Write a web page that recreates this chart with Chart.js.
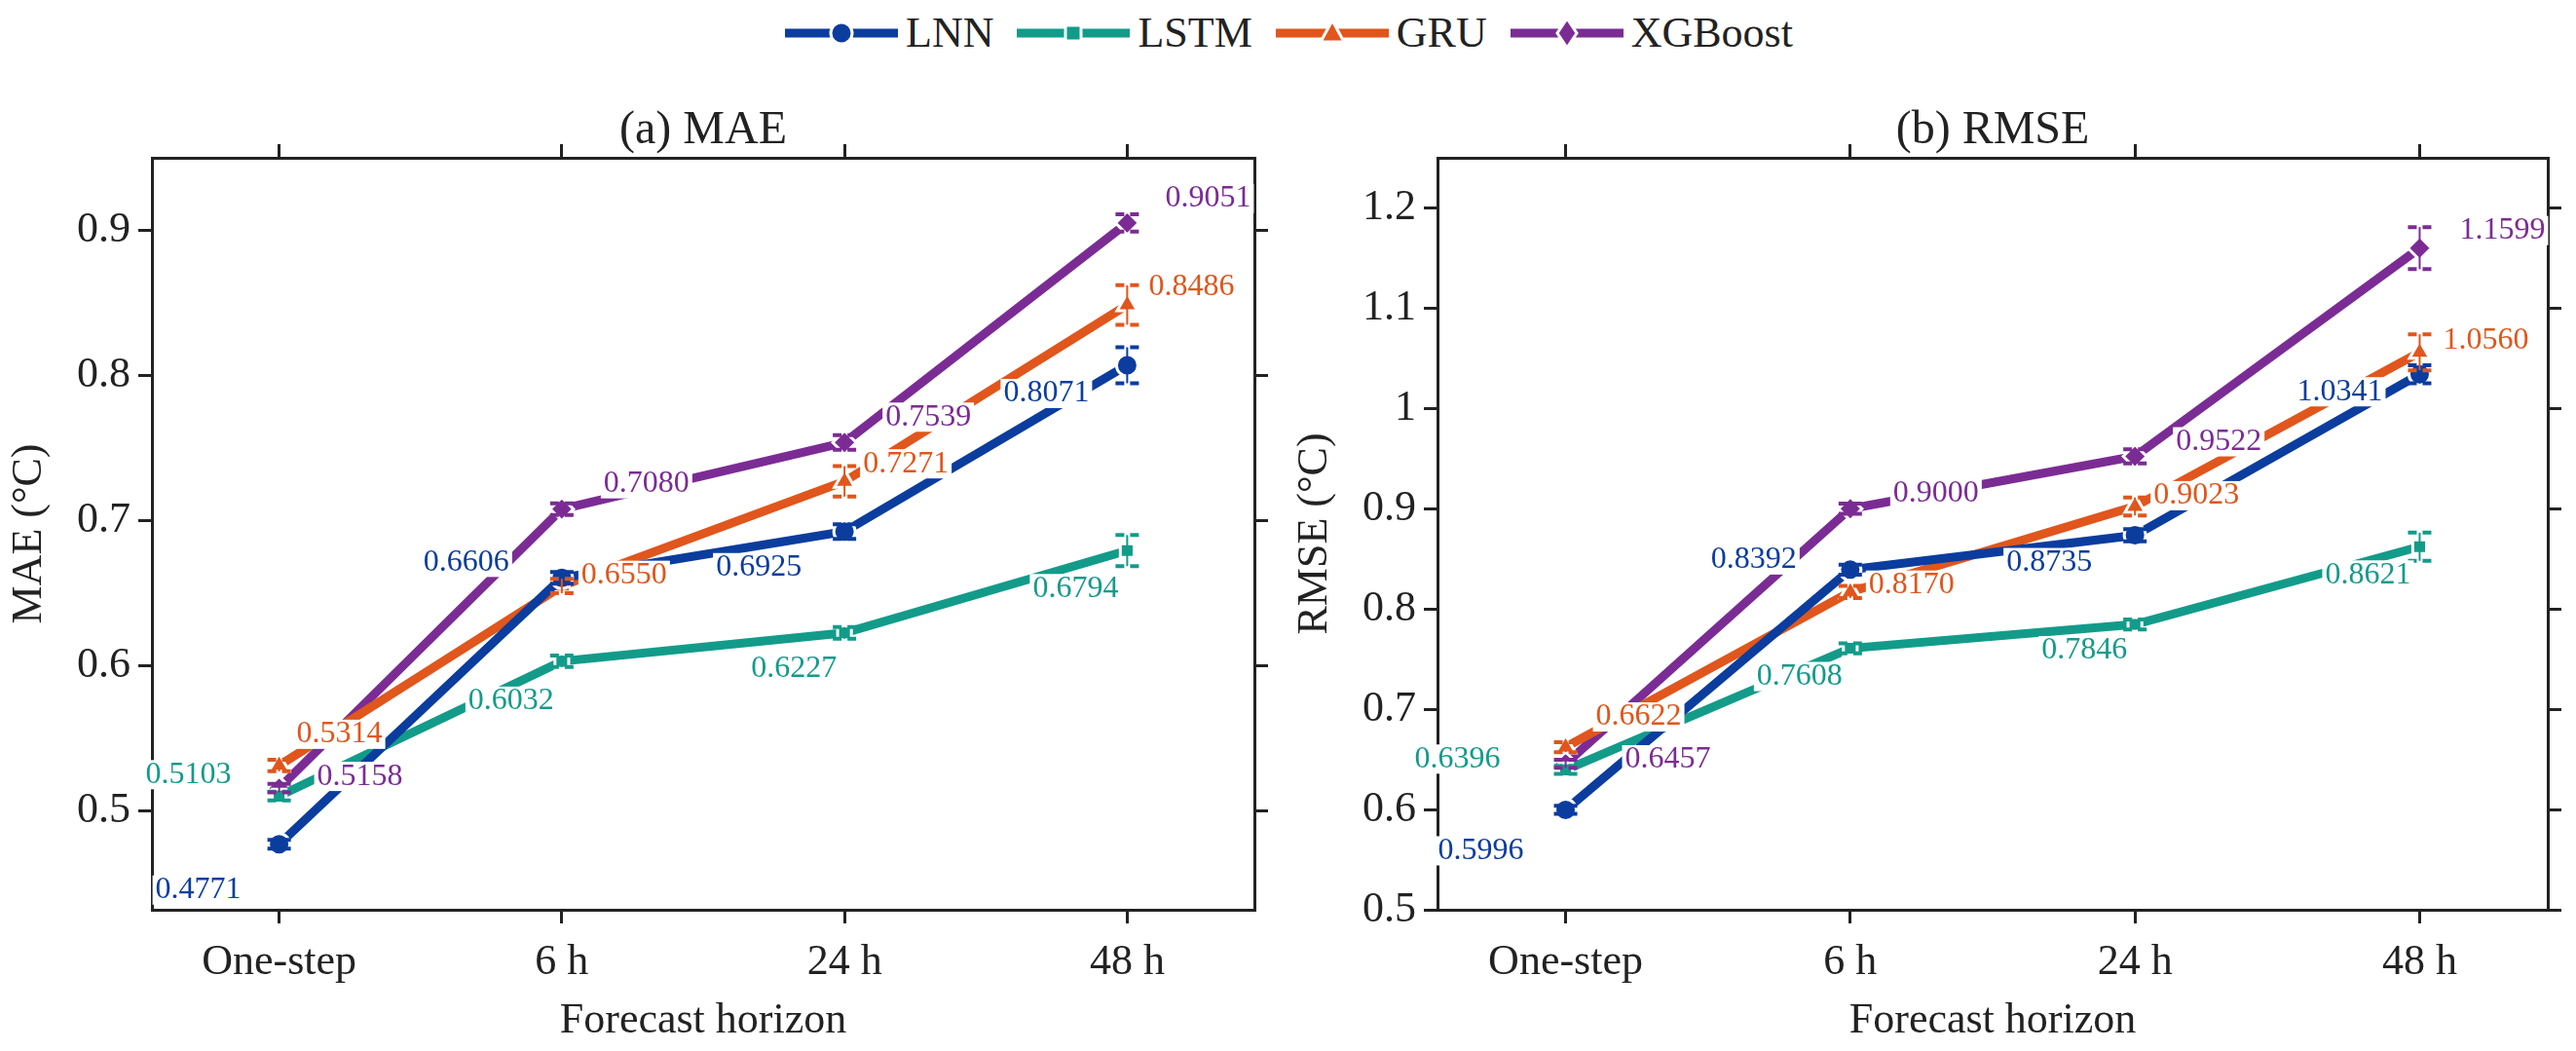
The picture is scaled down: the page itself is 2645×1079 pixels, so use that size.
<!DOCTYPE html>
<html>
<head>
<meta charset="utf-8">
<script src="https://cdn.jsdelivr.net/npm/chart.js@4.4.1/dist/chart.umd.min.js"></script>
<style>
  body { margin: 0; background: #fff; width: 2645px; height: 1079px; overflow: hidden; position: relative; font-family: "Liberation Serif", "DejaVu Serif", serif; }
  #legend { position: absolute; top: 8px; left: 0; width: 2645px; display: flex; justify-content: center; gap: 22px; font-size: 44px; color: #222; }
  .item { display: flex; align-items: center; gap: 6px; }
  canvas { position: absolute; top: 0; }
</style>
</head>
<body>
<div id="legend"></div>
<div style="position:absolute;left:0;top:0;width:1310px;height:1079px"><canvas id="mae"></canvas></div>
<div style="position:absolute;left:1320px;top:0;width:1325px;height:1079px"><canvas id="rmse"></canvas></div>
<script>
// Categories and series
const horizons = ['One-step', '6 h', '24 h', '48 h'];
const models = ['LNN', 'LSTM', 'GRU', 'XGBoost'];
const colors = ['#0b3d9e', '#139b8a', '#e0561c', '#7b2c94'];
const markers = ['circle', 'rect', 'triangle', 'rectRot'];
const markerSize = [11, 10, 12, 12];

const maeLNN = [0.4771, 0.6606, 0.6925, 0.8071];
const maeLSTM = [0.5103, 0.6032, 0.6227, 0.6794];
const maeGRU = [0.5314, 0.6550, 0.7271, 0.8486];
const maeXGB = [0.5158, 0.7080, 0.7539, 0.9051];

const rmseLNN = [0.5996, 0.8392, 0.8735, 1.0341];
const rmseLSTM = [0.6396, 0.7608, 0.7846, 0.8621];
const rmseGRU = [0.6622, 0.8170, 0.9023, 1.0560];
const rmseXGB = [0.6457, 0.9000, 0.9522, 1.1599];

// Error bar half-widths (estimated)
const maeErr = [[0.003, 0.004, 0.005, 0.0124], [0.003, 0.004, 0.004, 0.0107], [0.004, 0.005, 0.0105, 0.0136], [0.003, 0.004, 0.005, 0.006]];
const rmseErr = [[0.004, 0.005, 0.006, 0.009], [0.004, 0.005, 0.005, 0.014], [0.005, 0.006, 0.009, 0.018], [0.004, 0.005, 0.007, 0.021]];

const maeTicks = [0.5, 0.6, 0.7, 0.8, 0.9];
const rmseTicks = [0.5, 0.6, 0.7, 0.8, 0.9, 1.0, 1.1, 1.2];

// Label offsets in px (dx, dy) per model per horizon
const maeLabelOff = [
  [[-83, 47], [-98, -16], [-88, 37], [-83, 29]],
  [[-93, -22], [-52, 41], [-52, 37], [-53, 39]],
  [[62, -32], [64, -11], [63, -18], [66, -19]],
  [[83, -12], [87, -26], [86, -26], [83, -25]]
];
const rmseLabelOff = [
  [[-87, 42], [-99, -10], [-88, 28], [-82, 18]],
  [[-111, -11], [-52, 29], [-52, 27], [-53, 29]],
  [[75, -31], [63, -7], [63, -11], [68, -12]],
  [[105, -4], [88, -16], [86, -15], [85, -18]]
];

const FONT = '"Liberation Serif", "Times New Roman", serif';
const INK = '#222';

// Legend
const legend = document.getElementById('legend');
models.forEach((m, i) => {
  const shape = {
    circle: '<circle cx="60" cy="25" r="11" fill="C" stroke="#fff" stroke-width="3"/>',
    rect: '<rect x="52" y="17" width="16" height="16" fill="C" stroke="#fff" stroke-width="3"/>',
    triangle: '<polygon points="60,12 72,34 48,34" fill="C" stroke="#fff" stroke-width="3"/>',
    rectRot: '<polygon points="60,10 70,25 60,40 50,25" fill="C" stroke="#fff" stroke-width="3"/>'
  }[markers[i]].replace('C', colors[i]);
  const div = document.createElement('div');
  div.className = 'item';
  div.innerHTML = `<svg width="120" height="50"><line x1="2" y1="25" x2="118" y2="25" stroke="${colors[i]}" stroke-width="9"/>${shape}</svg><span>${m}</span>`;
  legend.appendChild(div);
});

const overlay = {
  id: 'overlay',
  afterDatasetsDraw(chart, args, opts) {
    const c = chart.ctx, xs = chart.scales.x, ys = chart.scales.y;
    // error bars
    opts.err.forEach((errs, si) => {
      const vals = chart.data.datasets[si].data;
      c.save();
      c.strokeStyle = colors[si];
      vals.forEach((p, k) => {
        const x = xs.getPixelForValue(p.x);
        const hi = ys.getPixelForValue(p.y + errs[k]);
        const lo = ys.getPixelForValue(p.y - errs[k]);
        c.lineWidth = 2;
        c.setLineDash([]);
        c.beginPath(); c.moveTo(x, hi); c.lineTo(x, lo); c.stroke();
        c.lineWidth = 4;
        c.setLineDash([9, 6]);
        [hi, lo].forEach(y => { c.beginPath(); c.moveTo(x - 12, y); c.lineTo(x + 12, y); c.stroke(); });
      });
      c.restore();
    });
    // value labels with white boxes
    c.save();
    c.font = '32px ' + FONT;
    c.textAlign = 'center';
    c.textBaseline = 'middle';
    opts.off.forEach((offs, si) => {
      chart.data.datasets[si].data.forEach((p, k) => {
        const x = xs.getPixelForValue(p.x) + offs[k][0];
        const y = ys.getPixelForValue(p.y) + offs[k][1];
        const txt = p.y.toFixed(4);
        const w = c.measureText(txt).width;
        c.fillStyle = '#fff';
        c.fillRect(x - w / 2 - 3, y - 15, w + 6, 30);
        c.fillStyle = colors[si];
        c.fillText(txt, x, y);
      });
    });
    // panel title
    c.font = '48px ' + FONT;
    c.fillStyle = INK;
    const a = chart.chartArea;
    const tw = c.measureText(opts.title).width;
    c.fillStyle = '#fff';
    c.fillRect((a.left + a.right) / 2 - tw / 2 - 4, 108, tw + 8, 52);
    c.fillStyle = INK;
    c.fillText(opts.title, (a.left + a.right) / 2, 134);
    c.restore();
  }
};

function makePanel(id, series, err, off, ticks, yMin, yMax, yTitle, title, rightW) {
  const tickFix = vals => axis => { axis.ticks = vals.map(v => ({ value: v })); };
  const grid = { drawOnChartArea: false, color: INK, lineWidth: 3, tickLength: 14, tickColor: INK };
  const border = { display: true, color: INK, width: 3 };
  new Chart(document.getElementById(id), {
    type: 'line',
    data: {
      datasets: series.map((vals, i) => ({
        label: models[i],
        data: vals.map((v, k) => ({ x: k, y: v })),
        borderColor: colors[i],
        backgroundColor: colors[i],
        borderWidth: 9,
        pointStyle: markers[i],
        pointRadius: markerSize[i],
        pointBorderColor: '#fff',
        pointBorderWidth: 3,
        tension: 0
      }))
    },
    options: {
      responsive: true,
      maintainAspectRatio: false,
      animation: false,
      layout: { padding: 0 },
      plugins: {
        legend: { display: false },
        tooltip: { enabled: false },
        overlay: { err: err, off: off, title: title }
      },
      scales: {
        x: {
          type: 'linear', position: 'bottom', min: -0.45, max: 3.45,
          afterBuildTicks: tickFix([0, 1, 2, 3]),
          afterFit: s => { s.height = 145; },
          grid: grid, border: border,
          ticks: { color: INK, font: { family: FONT, size: 44 }, padding: 14, callback: v => horizons[v] },
          title: { display: true, text: 'Forecast horizon', color: INK, font: { family: FONT, size: 44 }, padding: { top: 0, bottom: 4 } }
        },
        x2: {
          type: 'linear', position: 'top', min: -0.45, max: 3.45,
          afterBuildTicks: tickFix([0, 1, 2, 3]),
          afterFit: s => { s.height = 162; },
          grid: grid, border: border, ticks: { display: false }
        },
        y: {
          type: 'linear', position: 'left', min: yMin, max: yMax,
          afterBuildTicks: tickFix(ticks),
          afterFit: s => { s.width = 156; },
          grid: grid, border: border,
          ticks: { color: INK, font: { family: FONT, size: 44 }, padding: 8, callback: v => String(+v.toFixed(1)) },
          title: { display: true, text: yTitle, color: INK, font: { family: FONT, size: 44 }, padding: { top: 4, bottom: 4 } }
        },
        y2: {
          type: 'linear', position: 'right', min: yMin, max: yMax,
          afterBuildTicks: tickFix(ticks),
          afterFit: s => { s.width = rightW; },
          grid: grid, border: border, ticks: { display: false }
        }
      }
    },
    plugins: [overlay]
  });
}

makePanel('mae', [maeLNN, maeLSTM, maeGRU, maeXGB], maeErr, maeLabelOff, maeTicks, 0.432, 0.95, 'MAE (°C)', '(a) MAE', 22);
// right panel canvas starts at x=1320; chart area should span 1484..2616
makePanel('rmse', [rmseLNN, rmseLSTM, rmseGRU, rmseXGB], rmseErr, rmseLabelOff, rmseTicks, 0.5, 1.25, 'RMSE (°C)', '(b) RMSE', 29);
</script>
</body>
</html>
